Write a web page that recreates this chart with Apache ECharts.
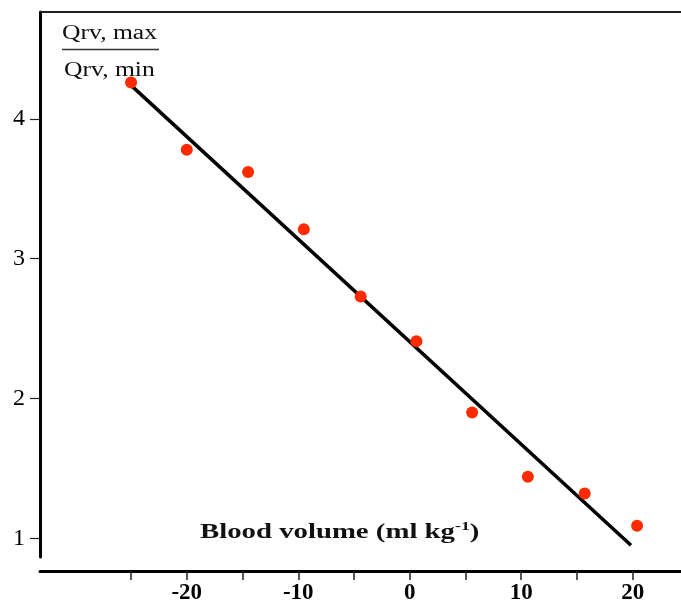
<!DOCTYPE html>
<html>
<head>
<meta charset="utf-8">
<script src="https://cdn.jsdelivr.net/npm/echarts@6/dist/echarts.min.js"></script>
<style>
* { margin: 0; padding: 0; }
body { background: #fff; }
</style>
</head>
<body>
<!-- container for the chart -->
<div id="chart" style="width:681px;height:609px;"></div>
<script>
// measured points: blood volume vs Qrv,max / Qrv,min
var volume = [-25.0, -20.0, -14.5, -9.5, -4.4, 0.6, 5.6, 10.6, 15.7, 20.4];
var ratio = [4.26, 3.78, 3.62, 3.21, 2.73, 2.41, 1.90, 1.44, 1.32, 1.09];
// regression line end points
var fitX = [-25.0, 19.85];
var fitY = [4.24, 0.95];
var xTicks = [-25, -20, -15, -10, -5, 0, 5, 10, 15, 20];
var xLabels = [-20, -10, 0, 10, 20];
var yTicks = [1, 2, 3, 4];

var font = '"Liberation Serif", "DejaVu Serif", serif';

var points = volume.map(function (v, i) { return [v, ratio[i]]; });
var fitLine = fitX.map(function (v, i) { return [v, fitY[i]]; });

var chartDom = document.getElementById('chart');
var myChart = echarts.init(chartDom);
var option = {
  animation: false,
  grid: { left: 40, right: 0, top: 12, bottom: 52 },
  xAxis: [
    {
      type: 'value',
      position: 'bottom',
      offset: 14,
      min: -33.17,
      max: 24.34,
      splitLine: { show: false },
      axisLine: { onZero: false, lineStyle: { color: '#000', width: 3 } },
      axisTick: { customValues: xTicks, length: 9, lineStyle: { color: '#222', width: 1.5 } },
      axisLabel: {
        customValues: xLabels,
        margin: 11,
        color: '#000',
        fontFamily: font,
        fontWeight: 'bold',
        fontSize: 23
      }
    },
    {
      type: 'value',
      position: 'top',
      min: -33.17,
      max: 24.34,
      splitLine: { show: false },
      axisLine: { onZero: false, lineStyle: { color: '#222', width: 2 } },
      axisTick: { show: false },
      axisLabel: { show: false }
    }
  ],
  yAxis: {
    type: 'value',
    min: 0.866,
    max: 4.765,
    splitLine: { show: false },
    axisLine: { onZero: false, lineStyle: { color: '#000', width: 3 } },
    axisTick: { customValues: yTicks, length: 10, lineStyle: { color: '#222', width: 1.2 } },
    axisLabel: {
      customValues: yTicks,
      margin: 15,
      color: '#000',
      fontFamily: font,
      fontSize: 24
    }
  },
  series: [
    {
      type: 'line',
      data: fitLine,
      symbol: 'none',
      lineStyle: { color: '#000', width: 3.5 },
      z: 2
    },
    {
      type: 'scatter',
      data: points,
      symbolSize: 12,
      itemStyle: { color: '#ff2a00', opacity: 1 },
      z: 3
    }
  ],
  graphic: [
    {
      type: 'text', x: 62, y: 24, scaleX: 1.28,
      style: { text: 'Qrv, max', font: '20px ' + font, fill: '#111' }
    },
    {
      type: 'line',
      shape: { x1: 62, y1: 49.5, x2: 159, y2: 49.5 },
      style: { stroke: '#333', lineWidth: 1.5 }
    },
    {
      type: 'text', x: 64, y: 61, scaleX: 1.28,
      style: { text: 'Qrv, min', font: '20px ' + font, fill: '#111' }
    },
    {
      type: 'text', x: 200, y: 520, scaleX: 1.37,
      style: {
        text: '{a|Blood volume (ml kg}{s|-1}{a|)}',
        rich: {
          a: { fontFamily: font, fontSize: 21, fontWeight: 'bold', fill: '#111', verticalAlign: 'bottom' },
          s: { fontFamily: font, fontSize: 13, fontWeight: 'bold', fill: '#111', verticalAlign: 'top', padding: [0, 0, 10, 0] }
        }
      }
    }
  ]
};
myChart.setOption(option);
</script>
</body>
</html>
